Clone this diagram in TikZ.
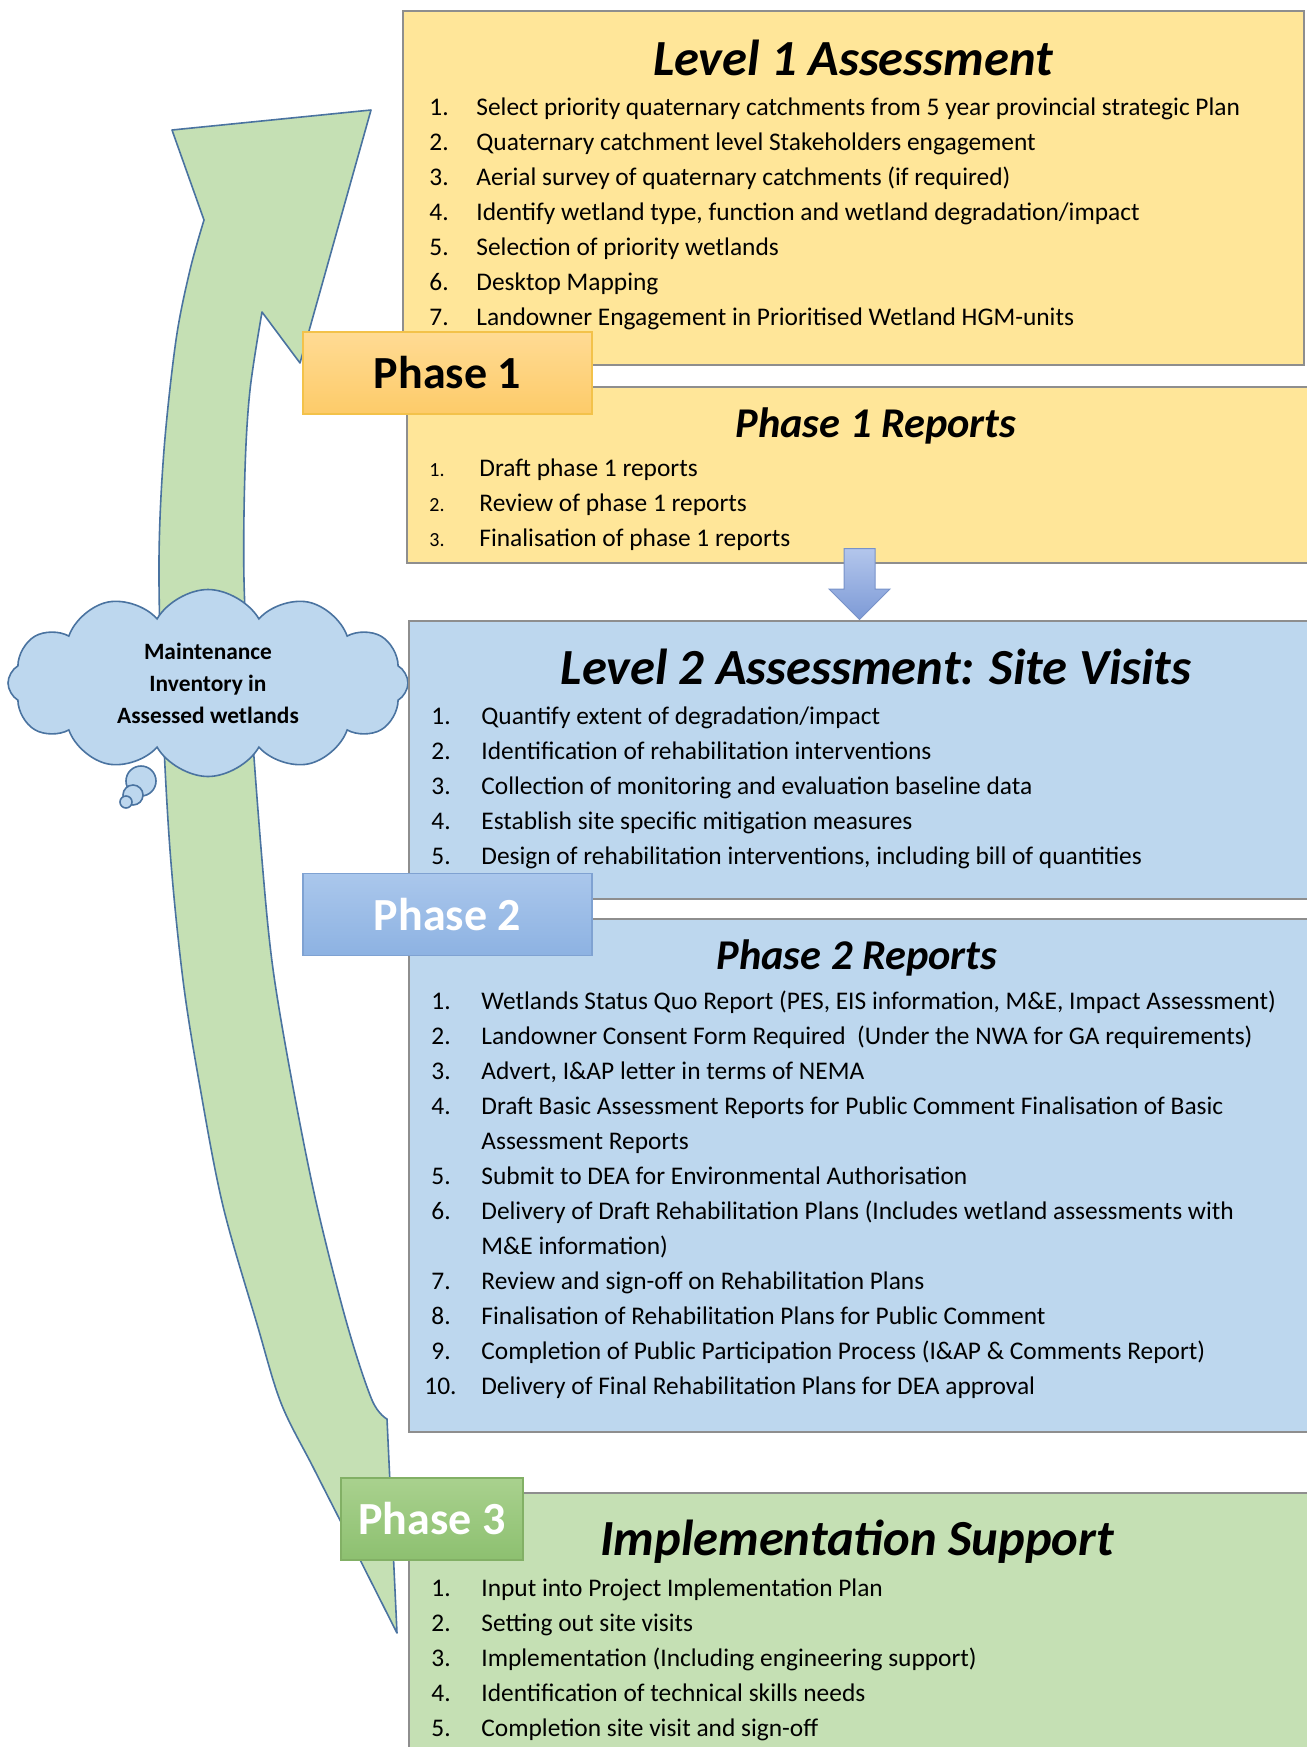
\documentclass[tikz,border=0pt]{standalone}
\usepackage{fontspec}
\setmainfont{Carlito}
\usepackage{array}
\usetikzlibrary{shapes.symbols,shapes.arrows,positioning,fit}

\definecolor{goldfill}{HTML}{FFE699}
\definecolor{bluefill}{HTML}{BDD7EE}
\definecolor{greenfill}{HTML}{C5E0B4}
\definecolor{outline}{HTML}{4A73A0}
\definecolor{boxline}{HTML}{8E8E8E}
\definecolor{arrowtop}{HTML}{B3C6EC}
\definecolor{arrowbottom}{HTML}{7D9AD6}
\definecolor{arrowline}{HTML}{7892C8}
\definecolor{onetop}{HTML}{FFDB94}
\definecolor{onebottom}{HTML}{FDCB69}
\definecolor{oneline}{HTML}{F3C24A}
\definecolor{twotop}{HTML}{AAC7EC}
\definecolor{twobottom}{HTML}{8DB2E2}
\definecolor{twoline}{HTML}{7FA2D2}
\definecolor{threetop}{HTML}{A9D18E}
\definecolor{threebottom}{HTML}{8DC070}
\definecolor{threeline}{HTML}{82B065}

\tikzstyle{panel} = [rectangle, draw=boxline, line width=0.8pt, inner sep=0pt]
\tikzstyle{heading} = [font=\bfseries\itshape\fontsize{25.3}{30}\selectfont, anchor=base, inner sep=0pt]
\tikzstyle{subheading} = [font=\bfseries\itshape\fontsize{21.2}{26}\selectfont, anchor=base, inner sep=0pt]
\tikzstyle{itemlist} = [font=\fontsize{12.7}{17.5}\selectfont, anchor=base west, inner sep=0pt]
\tikzstyle{phasetag} = [rectangle, minimum height=41pt, font=\bfseries\fontsize{23}{26}\selectfont, line width=0.6pt]
\tikzset{
 phaseone/.style
  = {phasetag, minimum width=144.5pt, top color=onetop, bottom color=onebottom,
     draw=oneline, text=black},
 phasetwo/.style
  = {phasetag, minimum width=144.5pt, top color=twotop, bottom color=twobottom,
     draw=twoline, text=white},
 phasethree/.style
  = {phasetag, minimum width=91pt, top color=threetop, bottom color=threebottom,
     draw=threeline, text=white},
 loop arrow/.style
  = {fill=greenfill, draw=outline, line width=0.8pt, line join=round},
 thought/.style
  = {cloud, cloud puffs=12, cloud puff arc=120, aspect=2.14, draw=outline, fill=bluefill, line width=0.8pt,
     minimum width=200pt, minimum height=93.5pt, inner sep=0pt, align=center,
     font=\bfseries\fontsize{11.7}{16}\selectfont},
 bubble/.style
  = {circle, draw=outline, fill=bluefill, line width=0.8pt, inner sep=0pt},
 droparrow/.style
  = {single arrow, shape border rotate=270, minimum height=35.5pt, minimum width=30pt,
     single arrow head extend=7.5pt, inner sep=7.5pt, top color=arrowtop, bottom color=arrowbottom,
     draw=arrowline, line width=0.5pt},
}

\begin{document}
\begin{tikzpicture}[x=0.5pt, y=-0.5pt]
\useasboundingbox (0,0) rectangle (1307,1747);
% big arrow going back up
\filldraw [loop arrow] (397,1633) -- (387,1419)
  -- plot [smooth, tension=0.55] coordinates {(387,1419) (372,1400) (347,1324) (317,1206) (293,1087) (273,969) (262,860) (250,700) (244,580) (245,470) (250,390) (262,312)}
  -- (300,363) -- (371,110) -- (172,130) -- (204,220)
  -- plot [smooth, tension=0.55] coordinates {(204,220) (190,270) (176,340) (164,450) (159,560) (162,700) (170,850) (183,980) (200,1087) (223,1206) (257,1324) (281,1403) (313,1467) (345,1530) (397,1633)}
  -- cycle;

% cloud
\node (memo) [thought] at (208,683) {Maintenance\\Inventory in\\Assessed wetlands};
\node (bubA) [bubble, minimum size=15pt] at (141,781) {};
\node (bubB) [bubble, minimum size=10pt] at (133,795) {};
\node (bubC) [bubble, minimum size=6pt] at (126,802) {};

% boxes
\node (lvlone) [panel, fill=goldfill, fit={(403,11) (1304,365)}] {};
\node (reportsone) [panel, fill=goldfill, fit={(407,387) (1312,563)}] {};
\node (lvltwo) [panel, fill=bluefill, fit={(409,621) (1312,899)}] {};
\node (reportstwo) [panel, fill=bluefill, fit={(409,919) (1312,1432)}] {};
\node (support) [panel, fill=greenfill, fit={(409,1493) (1312,1760)}] {};
\node (down) [droparrow, anchor=tip] at (reportsone.south |- lvltwo.north) {};

% titles
\node (lvlonetitle) [heading] at (853,75) {Level 1 Assessment};
\node (reportsonetitle) [subheading] at (876,437) {Phase 1 Reports};
\node (lvltwotitle) [heading] at (876,684) {Level 2 Assessment: Site Visits};
\node (reportstwotitle) [subheading] at (857,969) {Phase 2 Reports};
\node (supporttitle) [heading] at (857,1555) {Implementation Support};

% lists
\node (lvlonelist) [itemlist] at (429,115) {\begin{tabular}[t]{@{}p{23.5pt}@{}l@{}}
1. & Select priority quaternary catchments from 5 year provincial strategic Plan\\
2. & Quaternary catchment level Stakeholders engagement\\
3. & Aerial survey of quaternary catchments (if required)\\
4. & Identify wetland type, function and wetland degradation/impact\\
5. & Selection of priority wetlands\\
6. & Desktop Mapping\\
7. & Landowner Engagement in Prioritised Wetland HGM-units
\end{tabular}};
\node (reportsonelist) [itemlist] at (429,476) {\begin{tabular}[t]{@{}>{\fontsize{10}{12}\selectfont}p{25pt}@{}l@{}}
1. & Draft phase 1 reports\\
2. & Review of phase 1 reports\\
3. & Finalisation of phase 1 reports
\end{tabular}};
\node (lvltwolist) [itemlist] at (431,724) {\begin{tabular}[t]{@{}p{25pt}@{}l@{}}
1. & Quantify extent of degradation/impact\\
2. & Identification of rehabilitation interventions\\
3. & Collection of monitoring and evaluation baseline data\\
4. & Establish site specific mitigation measures\\
5. & Design of rehabilitation interventions, including bill of quantities
\end{tabular}};
\node (reportstwolist) [itemlist] at (431,1009) {\begin{tabular}[t]{@{}p{25pt}@{}l@{}}
1. & Wetlands Status Quo Report (PES, EIS information, M\&E, Impact Assessment)\\
2. & Landowner Consent Form Required\ \ (Under the NWA for GA requirements)\\
3. & Advert, I\&AP letter in terms of NEMA\\
4. & Draft Basic Assessment Reports for Public Comment Finalisation of Basic\\
   & Assessment Reports\\
5. & Submit to DEA for Environmental Authorisation\\
6. & Delivery of Draft Rehabilitation Plans (Includes wetland assessments with\\
   & M\&E information)\\
7. & Review and sign-off on Rehabilitation Plans\\
8. & Finalisation of Rehabilitation Plans for Public Comment\\
9. & Completion of Public Participation Process (I\&AP \& Comments Report)\\
\hspace{-3.5pt}10. & Delivery of Final Rehabilitation Plans for DEA approval
\end{tabular}};
\node (supportlist) [itemlist] at (431,1596) {\begin{tabular}[t]{@{}p{25pt}@{}l@{}}
1. & Input into Project Implementation Plan\\
2. & Setting out site visits\\
3. & Implementation (Including engineering support)\\
4. & Identification of technical skills needs\\
5. & Completion site visit and sign-off
\end{tabular}};

% phase labels
\node (tagone) [phaseone] at (447.5,373) {Phase 1};
\node (tagtwo) [phasetwo] at (447.5,914.5) {Phase 2};
\node (tagthree) [phasethree] at (432,1519) {Phase 3};
\end{tikzpicture}
\end{document}
